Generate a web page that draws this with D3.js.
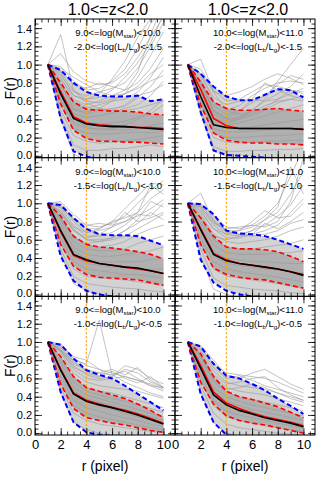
<!DOCTYPE html>
<html>
<head>
<meta charset="utf-8">
<script src="https://cdn.jsdelivr.net/npm/d3@7"></script>
<style>
body { margin: 0; background: #fff; }
svg { display: block; font-family: "Liberation Sans", Arial, sans-serif; }
</style>
</head>
<body>
<div id="chart"></div>
<script>
// radius sampling and axis ticks
const rVals = [1, 2, 3, 4, 5, 6, 7, 8, 9, 10];
const xTicks = [0, 2, 4, 6, 8, 10];
const yTicks = [0, 0.2, 0.4, 0.6, 0.8, 1.0, 1.2, 1.4];
const zTitle = "1.0<=z<2.0";
const massBins = [["9.0", "10.0"], ["10.0", "11.0"]];        // per column
const ratioBins = [["-2.0", "-1.5"], ["-1.5", "-1.0"], ["-1.0", "-0.5"]]; // per row
const rCut = 4;

// summary curves: median (black), mean (red solid), 16/84 (red dashed), 2.5/97.5 (blue dashed)
const med11 = [1, 0.68, 0.41, 0.35, 0.33, 0.32, 0.32, 0.31, 0.30, 0.29];
const mean11 = [1, 0.70, 0.43, 0.36, 0.34, 0.33, 0.32, 0.31, 0.31, 0.30];
const hi11 = [1, 0.80, 0.59, 0.51, 0.50, 0.49, 0.49, 0.48, 0.46, 0.45];
const lo11 = [1, 0.57, 0.28, 0.19, 0.16, 0.16, 0.15, 0.15, 0.14, 0.13];
const top11 = [1, 0.94, 0.80, 0.70, 0.66, 0.65, 0.65, 0.66, 0.60, 0.62];
const bot11 = [1, 0.41, 0.05, -0.01, -0.03, -0.04, -0.04, -0.04, -0.04, -0.04];

const med12 = [1, 0.65, 0.34, 0.31, 0.30, 0.30, 0.30, 0.30, 0.30, 0.29];
const mean12 = [1, 0.73, 0.41, 0.33, 0.30, 0.30, 0.30, 0.30, 0.30, 0.29];
const hi12 = [1, 0.81, 0.59, 0.52, 0.50, 0.50, 0.51, 0.52, 0.50, 0.49];
const lo12 = [1, 0.56, 0.25, 0.17, 0.15, 0.14, 0.14, 0.13, 0.13, 0.12];
const top12 = [1, 0.90, 0.76, 0.65, 0.61, 0.61, 0.67, 0.73, 0.72, 0.64];
const bot12 = [1, 0.48, 0.06, 0.01, 0.00, -0.01, -0.02, -0.03, -0.04, -0.04];

const med21 = [1, 0.70, 0.44, 0.38, 0.34, 0.32, 0.30, 0.29, 0.26, 0.23];
const mean21 = [1, 0.69, 0.43, 0.37, 0.34, 0.32, 0.30, 0.28, 0.26, 0.23];
const hi21 = [1, 0.86, 0.64, 0.55, 0.52, 0.51, 0.49, 0.47, 0.44, 0.39];
const lo21 = [1, 0.55, 0.31, 0.22, 0.19, 0.18, 0.17, 0.16, 0.13, 0.10];
const top21 = [1, 0.98, 0.84, 0.72, 0.66, 0.65, 0.65, 0.64, 0.59, 0.54];
const bot21 = [1, 0.42, 0.15, 0.04, 0.00, -0.02, -0.03, -0.04, -0.04, -0.04];

const med22 = [1, 0.71, 0.44, 0.37, 0.34, 0.32, 0.30, 0.28, 0.25, 0.21];
const mean22 = [1, 0.72, 0.45, 0.38, 0.34, 0.32, 0.30, 0.28, 0.25, 0.22];
const hi22 = [1, 0.84, 0.64, 0.52, 0.50, 0.50, 0.49, 0.47, 0.42, 0.36];
const lo22 = [1, 0.55, 0.29, 0.22, 0.19, 0.17, 0.16, 0.13, 0.10, 0.07];
const top22 = [1, 0.99, 0.88, 0.70, 0.67, 0.66, 0.64, 0.60, 0.55, 0.50];
const bot22 = [1, 0.38, 0.13, 0.04, 0.00, -0.02, -0.03, -0.04, -0.04, -0.04];

const med31 = [1, 0.69, 0.43, 0.35, 0.31, 0.28, 0.24, 0.20, 0.15, 0.10];
const mean31 = [1, 0.70, 0.44, 0.36, 0.32, 0.28, 0.25, 0.21, 0.16, 0.11];
const hi31 = [1, 0.84, 0.62, 0.50, 0.46, 0.42, 0.38, 0.32, 0.25, 0.17];
const lo31 = [1, 0.54, 0.27, 0.17, 0.14, 0.11, 0.09, 0.06, 0.03, 0.01];
const top31 = [1, 0.97, 0.82, 0.69, 0.64, 0.60, 0.52, 0.43, 0.34, 0.25];
const bot31 = [1, 0.45, 0.12, 0.01, -0.02, -0.03, -0.04, -0.04, -0.04, -0.04];

const med32 = [1, 0.71, 0.42, 0.31, 0.25, 0.21, 0.17, 0.14, 0.11, 0.07];
const mean32 = [1, 0.74, 0.45, 0.33, 0.27, 0.22, 0.18, 0.15, 0.12, 0.08];
const hi32 = [1, 0.87, 0.62, 0.46, 0.40, 0.37, 0.33, 0.29, 0.23, 0.17];
const lo32 = [1, 0.56, 0.32, 0.19, 0.14, 0.11, 0.09, 0.06, 0.03, 0.00];
const top32 = [1, 0.95, 0.76, 0.63, 0.60, 0.54, 0.47, 0.38, 0.30, 0.21];
const bot32 = [1, 0.43, 0.12, -0.02, -0.04, -0.04, -0.04, -0.04, -0.04, -0.04];

// individual profiles (a readable subset of the grey ones)
const gray11 = [
  [1, 1.33, 0.72, 0.58, 0.52, 0.50, 0.50, 0.52, 0.56, 0.60],
  [1, 1.12, 0.92, 0.82, 0.78, 0.80, 0.90, 1.08, 1.30, 1.52],
  [1, 0.98, 0.82, 0.72, 0.74, 0.82, 0.95, 1.18, 1.45, 1.60],
  [1, 0.92, 0.72, 0.62, 0.64, 0.72, 0.86, 1.02, 1.24, 1.55],
  [1, 0.86, 0.62, 0.56, 0.60, 0.66, 0.72, 0.92, 1.32, 1.70],
  [1, 0.94, 0.78, 0.74, 0.80, 0.76, 0.72, 0.80, 0.96, 1.18],
  [1, 0.82, 0.58, 0.52, 0.56, 0.60, 0.62, 0.70, 0.86, 1.08],
  [1, 0.78, 0.52, 0.46, 0.50, 0.52, 0.54, 0.64, 0.76, 0.94],
  [1, 0.72, 0.46, 0.42, 0.44, 0.47, 0.52, 0.56, 0.66, 0.82],
  [1, 0.66, 0.42, 0.36, 0.35, 0.36, 0.38, 0.42, 0.46, 0.56],
  [1, 0.60, 0.36, 0.30, 0.30, 0.29, 0.28, 0.30, 0.33, 0.36],
  [1, 0.55, 0.30, 0.25, 0.24, 0.24, 0.25, 0.26, 0.25, 0.27],
  [1, 0.50, 0.22, 0.16, 0.14, 0.15, 0.17, 0.18, 0.20, 0.22],
  [1, 0.44, 0.12, 0.06, 0.06, 0.08, 0.08, 0.10, 0.12, 0.10],
  [1, 0.40, 0.02, -0.05, -0.05, -0.04, -0.05, -0.05, -0.05, -0.05],
  [1, 0.84, 0.66, 0.62, 0.68, 0.84, 1.04, 1.30, 1.50, 1.60],
  [1, 0.88, 0.70, 0.66, 0.70, 0.74, 0.80, 0.96, 1.20, 1.46],
  [1, 0.70, 0.50, 0.48, 0.52, 0.60, 0.68, 0.76, 0.90, 1.00],
  [1, 0.96, 0.86, 0.78, 0.70, 0.66, 0.68, 0.74, 0.82, 0.88],
  [1, 0.76, 0.60, 0.54, 0.50, 0.50, 0.56, 0.66, 0.70, 0.78],
  [1, 0.62, 0.40, 0.32, 0.28, 0.30, 0.34, 0.40, 0.50, 0.62],
  [1, 0.90, 0.66, 0.60, 0.58, 0.62, 0.68, 0.86, 1.10, 1.36]
];
const gray12 = [
  [1, 1.06, 0.70, 0.50, 0.45, 0.48, 0.55, 0.60, 0.62, 0.60],
  [1, 0.95, 0.72, 0.60, 0.62, 0.70, 0.78, 0.76, 0.72, 0.70],
  [1, 0.90, 0.60, 0.50, 0.55, 0.66, 0.74, 0.80, 0.82, 0.80],
  [1, 0.85, 0.55, 0.45, 0.50, 0.58, 0.66, 0.78, 0.88, 0.84],
  [1, 0.82, 0.50, 0.40, 0.42, 0.50, 0.62, 0.82, 1.00, 1.18],
  [1, 0.88, 0.64, 0.56, 0.60, 0.62, 0.60, 0.62, 0.68, 0.74],
  [1, 0.75, 0.45, 0.38, 0.40, 0.44, 0.50, 0.58, 0.62, 0.66],
  [1, 0.70, 0.40, 0.34, 0.36, 0.40, 0.44, 0.48, 0.52, 0.56],
  [1, 0.65, 0.36, 0.30, 0.30, 0.32, 0.34, 0.36, 0.38, 0.40],
  [1, 0.60, 0.30, 0.26, 0.26, 0.27, 0.28, 0.30, 0.30, 0.32],
  [1, 0.55, 0.25, 0.20, 0.20, 0.21, 0.22, 0.22, 0.23, 0.24],
  [1, 0.50, 0.20, 0.15, 0.14, 0.15, 0.16, 0.16, 0.17, 0.17],
  [1, 0.45, 0.10, 0.05, 0.05, 0.06, 0.06, 0.07, 0.07, 0.08],
  [1, 0.50, 0.05, 0.00, -0.02, -0.03, -0.03, -0.03, -0.03, -0.03],
  [1, 0.90, 0.70, 0.66, 0.70, 0.76, 0.84, 0.90, 0.85, 0.78],
  [1, 0.80, 0.50, 0.42, 0.48, 0.62, 0.80, 0.72, 0.66, 0.62],
  [1, 0.72, 0.42, 0.36, 0.40, 0.50, 0.60, 0.68, 0.76, 0.90],
  [1, 0.78, 0.48, 0.40, 0.42, 0.46, 0.52, 0.62, 0.72, 0.68]
];
const gray21 = [
  [1, 1.02, 0.88, 0.76, 0.74, 0.78, 0.86, 1.00, 1.14, 1.25],
  [1, 1.00, 0.84, 0.72, 0.72, 0.80, 0.94, 1.08, 1.22, 1.20],
  [1, 0.98, 0.80, 0.68, 0.70, 0.74, 0.80, 0.90, 1.05, 1.15],
  [1, 0.95, 0.76, 0.64, 0.64, 0.68, 0.76, 0.88, 0.86, 1.00],
  [1, 0.92, 0.72, 0.60, 0.60, 0.62, 0.70, 0.82, 1.02, 0.96],
  [1, 0.90, 0.70, 0.60, 0.58, 0.60, 0.64, 0.72, 0.80, 0.88],
  [1, 0.86, 0.64, 0.54, 0.52, 0.54, 0.58, 0.66, 0.72, 0.76],
  [1, 0.82, 0.58, 0.50, 0.48, 0.48, 0.50, 0.56, 0.60, 0.64],
  [1, 0.78, 0.52, 0.44, 0.42, 0.42, 0.44, 0.46, 0.48, 0.52],
  [1, 0.74, 0.48, 0.40, 0.36, 0.36, 0.36, 0.36, 0.38, 0.40],
  [1, 0.68, 0.42, 0.34, 0.32, 0.30, 0.30, 0.28, 0.27, 0.28],
  [1, 0.62, 0.36, 0.28, 0.26, 0.24, 0.22, 0.22, 0.20, 0.18],
  [1, 0.56, 0.28, 0.20, 0.18, 0.17, 0.16, 0.14, 0.12, 0.10],
  [1, 0.50, 0.20, 0.12, 0.10, 0.08, 0.07, 0.06, 0.04, 0.03],
  [1, 0.45, 0.12, 0.04, 0.00, -0.02, -0.03, -0.03, -0.03, -0.03],
  [1, 0.90, 0.74, 0.68, 0.72, 0.80, 0.84, 0.90, 1.20, 1.10],
  [1, 0.96, 0.82, 0.76, 0.78, 0.76, 0.80, 0.86, 0.94, 1.04],
  [1, 0.88, 0.70, 0.62, 0.66, 0.74, 0.90, 0.80, 0.84, 0.90],
  [1, 0.84, 0.62, 0.56, 0.58, 0.62, 0.70, 0.78, 0.90, 0.82]
];
const gray22 = [
  [1, 1.11, 0.80, 0.70, 0.66, 0.64, 0.66, 0.70, 0.78, 0.82],
  [1, 1.00, 0.86, 0.74, 0.72, 0.76, 0.86, 1.00, 1.30, 1.60],
  [1, 0.98, 0.82, 0.70, 0.70, 0.74, 0.82, 0.96, 1.40, 1.10],
  [1, 0.96, 0.80, 0.68, 0.66, 0.70, 0.76, 0.86, 0.98, 1.20],
  [1, 0.94, 0.76, 0.66, 0.64, 0.66, 0.70, 0.76, 0.90, 1.05],
  [1, 0.92, 0.72, 0.62, 0.62, 0.66, 0.78, 0.72, 0.80, 0.90],
  [1, 0.88, 0.66, 0.58, 0.56, 0.58, 0.60, 0.64, 0.70, 0.74],
  [1, 0.84, 0.60, 0.52, 0.50, 0.50, 0.52, 0.54, 0.56, 0.60],
  [1, 0.78, 0.54, 0.46, 0.44, 0.44, 0.44, 0.46, 0.46, 0.48],
  [1, 0.74, 0.48, 0.40, 0.38, 0.36, 0.36, 0.35, 0.34, 0.34],
  [1, 0.68, 0.42, 0.34, 0.32, 0.30, 0.28, 0.27, 0.25, 0.24],
  [1, 0.62, 0.36, 0.28, 0.25, 0.23, 0.21, 0.19, 0.16, 0.14],
  [1, 0.56, 0.28, 0.20, 0.18, 0.16, 0.14, 0.12, 0.09, 0.07],
  [1, 0.50, 0.18, 0.10, 0.08, 0.06, 0.05, 0.04, 0.02, 0.01],
  [1, 0.42, 0.06, 0.00, -0.03, -0.03, -0.03, -0.03, -0.03, -0.03],
  [1, 0.90, 0.72, 0.66, 0.70, 0.80, 0.92, 0.84, 0.86, 1.00],
  [1, 0.96, 0.78, 0.72, 0.74, 0.76, 0.74, 0.80, 1.02, 1.50],
  [1, 0.86, 0.64, 0.60, 0.64, 0.70, 0.82, 0.90, 1.10, 1.35]
];
const gray31 = [
  [1, 0.98, 0.82, 0.74, 0.70, 0.66, 0.62, 0.58, 0.52, 0.50],
  [1, 0.90, 0.80, 0.76, 1.24, 0.64, 0.56, 0.50, 0.44, 0.40],
  [1, 0.94, 0.78, 0.68, 0.66, 0.64, 0.68, 0.60, 0.52, 0.46],
  [1, 0.92, 0.74, 0.64, 0.60, 0.62, 0.70, 0.66, 0.56, 0.50],
  [1, 0.90, 0.70, 0.60, 0.58, 0.60, 0.62, 0.58, 0.54, 0.48],
  [1, 0.88, 0.66, 0.56, 0.52, 0.50, 0.48, 0.46, 0.42, 0.38],
  [1, 0.84, 0.60, 0.50, 0.46, 0.44, 0.40, 0.36, 0.32, 0.28],
  [1, 0.80, 0.56, 0.46, 0.42, 0.38, 0.35, 0.31, 0.27, 0.23],
  [1, 0.76, 0.50, 0.42, 0.38, 0.34, 0.30, 0.26, 0.22, 0.18],
  [1, 0.72, 0.46, 0.38, 0.34, 0.30, 0.26, 0.22, 0.18, 0.14],
  [1, 0.68, 0.42, 0.34, 0.30, 0.26, 0.22, 0.18, 0.14, 0.10],
  [1, 0.62, 0.36, 0.28, 0.24, 0.20, 0.17, 0.14, 0.10, 0.07],
  [1, 0.56, 0.30, 0.22, 0.18, 0.15, 0.12, 0.09, 0.06, 0.04],
  [1, 0.50, 0.22, 0.14, 0.10, 0.08, 0.06, 0.04, 0.02, 0.01],
  [1, 0.44, 0.12, 0.04, 0.00, -0.02, -0.03, -0.03, -0.03, -0.03],
  [1, 0.96, 0.84, 0.80, 0.70, 0.62, 0.74, 0.70, 0.60, 0.54],
  [1, 0.92, 0.76, 0.70, 0.66, 0.70, 0.64, 0.72, 0.58, 0.50],
  [1, 0.90, 0.72, 0.66, 0.62, 0.68, 0.60, 0.55, 0.62, 0.50]
];
const gray32 = [
  [1, 0.96, 0.80, 0.64, 0.60, 0.66, 0.70, 0.62, 0.54, 0.48],
  [1, 0.94, 0.76, 0.66, 0.64, 0.62, 0.60, 0.56, 0.50, 0.44],
  [1, 0.92, 0.72, 0.60, 0.63, 0.58, 0.52, 0.48, 0.44, 0.40],
  [1, 0.90, 0.68, 0.56, 0.52, 0.50, 0.48, 0.44, 0.40, 0.36],
  [1, 0.86, 0.62, 0.50, 0.46, 0.44, 0.42, 0.38, 0.34, 0.30],
  [1, 0.82, 0.56, 0.45, 0.40, 0.37, 0.34, 0.31, 0.28, 0.24],
  [1, 0.78, 0.50, 0.40, 0.35, 0.31, 0.28, 0.25, 0.22, 0.19],
  [1, 0.74, 0.46, 0.35, 0.30, 0.26, 0.23, 0.20, 0.17, 0.14],
  [1, 0.70, 0.42, 0.30, 0.25, 0.21, 0.18, 0.15, 0.12, 0.10],
  [1, 0.64, 0.36, 0.24, 0.20, 0.17, 0.14, 0.11, 0.08, 0.06],
  [1, 0.58, 0.30, 0.18, 0.14, 0.11, 0.08, 0.06, 0.04, 0.02],
  [1, 0.52, 0.22, 0.10, 0.06, 0.04, 0.02, 0.00, -0.01, -0.02],
  [1, 0.46, 0.12, 0.00, -0.03, -0.03, -0.03, -0.03, -0.03, -0.03],
  [1, 0.88, 0.64, 0.54, 0.56, 0.60, 0.62, 0.50, 0.42, 0.36],
  [1, 0.84, 0.58, 0.48, 0.50, 0.54, 0.50, 0.44, 0.38, 0.34]
];

const panels = [
  { row: 0, col: 0, gray: gray11, med: med11, mean: mean11, hi: hi11, lo: lo11, top: top11, bot: bot11 },
  { row: 0, col: 1, gray: gray12, med: med12, mean: mean12, hi: hi12, lo: lo12, top: top12, bot: bot12 },
  { row: 1, col: 0, gray: gray21, med: med21, mean: mean21, hi: hi21, lo: lo21, top: top21, bot: bot21 },
  { row: 1, col: 1, gray: gray22, med: med22, mean: mean22, hi: hi22, lo: lo22, top: top22, bot: bot22 },
  { row: 2, col: 0, gray: gray31, med: med31, mean: mean31, hi: hi31, lo: lo31, top: top31, bot: bot31 },
  { row: 2, col: 1, gray: gray32, med: med32, mean: mean32, hi: hi32, lo: lo32, top: top32, bot: bot32 }
];

const width = 323, height = 485;
const left = 35, topY = 19;
const panelW = 140, panelH = 138.67;

const x = d3.scaleLinear().domain([0, 10.9]).range([0, panelW]);
const y = d3.scaleLinear().domain([-0.02, 1.5]).range([panelH, 0]);

const xMinor = d3.range(0, 10.9, 0.5);
const yMinor = d3.range(0, 1.5, 0.05);

const svg = d3.select("#chart").append("svg")
  .attr("width", width)
  .attr("height", height);

const line = d3.line().x((d, i) => x(rVals[i])).y(d => y(d));
const band = (a, b) => d3.area()
  .x((d, i) => x(rVals[i]))
  .y0((d, i) => y(b[i]))
  .y1((d, i) => y(a[i]))(a);

function noDomain(g) { g.select(".domain").remove(); }

panels.forEach((p, k) => {
  const g = svg.append("g")
    .attr("transform", `translate(${left + p.col * panelW},${topY + p.row * panelH})`);

  g.append("clipPath").attr("id", "clip" + k)
    .append("rect").attr("width", panelW).attr("height", panelH);

  const plot = g.append("g").attr("clip-path", `url(#clip${k})`);

  // dense cloud of profiles
  plot.append("path").attr("d", band(p.top, p.bot)).attr("fill", "#d3d3d3");
  plot.append("path").attr("d", band(p.hi, p.lo)).attr("fill", "#b0b0b0");

  plot.selectAll(".prof").data(p.gray).enter().append("path")
    .attr("class", "prof")
    .attr("d", line)
    .attr("fill", "none")
    .attr("stroke", "#999")
    .attr("stroke-width", 0.6);

  plot.append("line")
    .attr("x1", x(rCut)).attr("x2", x(rCut))
    .attr("y1", 0).attr("y2", panelH)
    .attr("stroke", "#ffa500").attr("stroke-width", 1.3)
    .attr("stroke-dasharray", "2,2");

  [p.top, p.bot].forEach(s => plot.append("path").attr("d", line(s))
    .attr("fill", "none").attr("stroke", "#0000ff").attr("stroke-width", 2)
    .attr("stroke-dasharray", "5,3"));
  [p.hi, p.lo].forEach(s => plot.append("path").attr("d", line(s))
    .attr("fill", "none").attr("stroke", "#ff0000").attr("stroke-width", 1.6)
    .attr("stroke-dasharray", "5,3"));
  plot.append("path").attr("d", line(p.mean))
    .attr("fill", "none").attr("stroke", "#ff0000").attr("stroke-width", 1.6);
  plot.append("path").attr("d", line(p.med))
    .attr("fill", "none").attr("stroke", "#000").attr("stroke-width", 1.6);

  // axes, ticks pointing inward
  g.append("g").call(d3.axisLeft(y).tickValues(yMinor).tickSize(-3.5).tickFormat("")).call(noDomain);
  g.append("g").attr("transform", `translate(${panelW},0)`)
    .call(d3.axisRight(y).tickValues(yMinor).tickSize(-3.5).tickFormat("")).call(noDomain);
  g.append("g").call(d3.axisTop(x).tickValues(xMinor).tickSize(-3.5).tickFormat("")).call(noDomain);
  g.append("g").attr("transform", `translate(0,${panelH})`)
    .call(d3.axisBottom(x).tickValues(xMinor).tickSize(-3.5).tickFormat("")).call(noDomain);

  const yl = g.append("g")
    .call(d3.axisLeft(y).tickValues(yTicks).tickSize(-7).tickPadding(3)
      .tickFormat(p.col === 0 ? d3.format(".1f") : ""))
    .call(noDomain);
  g.append("g").attr("transform", `translate(${panelW},0)`)
    .call(d3.axisRight(y).tickValues(yTicks).tickSize(-7).tickFormat("")).call(noDomain);
  g.append("g").call(d3.axisTop(x).tickValues(xTicks).tickSize(-7).tickFormat("")).call(noDomain);
  const xb = g.append("g").attr("transform", `translate(0,${panelH})`)
    .call(d3.axisBottom(x).tickValues(xTicks).tickSize(-7).tickPadding(5)
      .tickFormat(p.row === 2 ? d3.format("d") : ""))
    .call(noDomain);

  g.selectAll(".tick line").attr("stroke", "#000").attr("stroke-width", 0.8);
  yl.selectAll("text").attr("font-size", 11).attr("font-family", "Liberation Sans, Arial, sans-serif").attr("fill", "#000")
    .attr("dy", d => d === 0 ? "0.2em" : d === 1.4 ? "0.4em" : "0.32em");
  xb.selectAll("text").attr("font-size", 13).attr("font-family", "Liberation Sans, Arial, sans-serif").attr("fill", "#000");

  g.append("rect")
    .attr("width", panelW).attr("height", panelH)
    .attr("fill", "none").attr("stroke", "#000").attr("stroke-width", 1);

  // bin labels
  const m = massBins[p.col], rb = ratioBins[p.row];
  const t1 = g.append("text").attr("x", 83).attr("y", 17)
    .attr("text-anchor", "middle").attr("font-size", 9.5);
  t1.append("tspan").text(m[0] + "<=log(M");
  t1.append("tspan").text("star").attr("font-size", 6).attr("dy", 2);
  t1.append("tspan").text(")<" + m[1]).attr("dy", -2);

  const t2 = g.append("text").attr("x", 83).attr("y", 31)
    .attr("text-anchor", "middle").attr("font-size", 9.5);
  t2.append("tspan").text(rb[0] + "<=log(L");
  t2.append("tspan").text("b").attr("font-size", 6).attr("dy", 2);
  t2.append("tspan").text("/L").attr("dy", -2);
  t2.append("tspan").text("g").attr("font-size", 6).attr("dy", 2);
  t2.append("tspan").text(")<" + rb[1]).attr("dy", -2);

  if (p.col === 0) {
    g.append("text")
      .attr("transform", `translate(-20,${panelH / 2}) rotate(-90)`)
      .attr("text-anchor", "middle")
      .attr("font-size", 14)
      .text("F(r)");
  }
  if (p.row === 0) {
    g.append("text").attr("x", panelW / 2 + 3).attr("y", -4)
      .attr("text-anchor", "middle").attr("font-size", 16)
      .text(zTitle);
  }
  if (p.row === 2) {
    g.append("text").attr("x", panelW / 2).attr("y", panelH + 36)
      .attr("text-anchor", "middle").attr("font-size", 14)
      .text("r (pixel)");
  }
});
</script>
</body>
</html>
